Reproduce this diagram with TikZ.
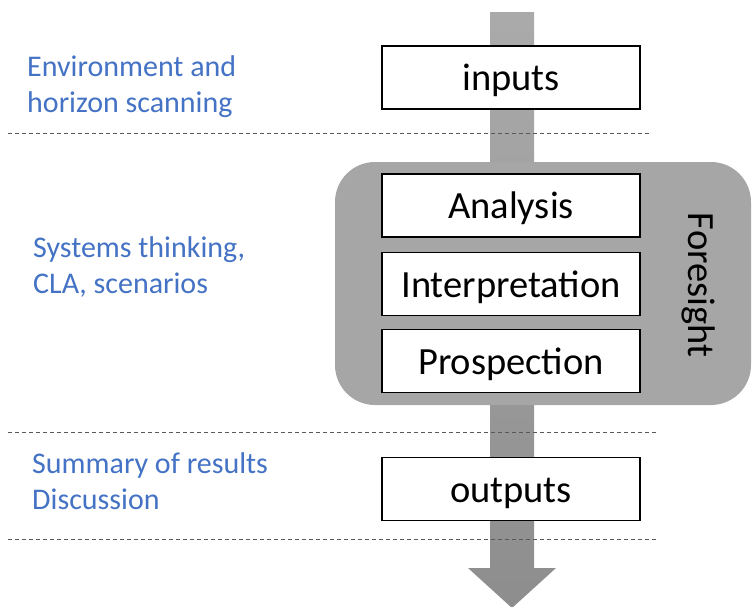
\documentclass[tikz,border=0pt]{standalone}
\usepackage{fontspec}
\setmainfont{Carlito}
\definecolor{labelblue}{HTML}{4472C4}
\definecolor{panelgray}{HTML}{A6A6A6}
\definecolor{dashgray}{HTML}{595959}
\tikzset{
  stagebox/.style={draw=black, line width=1.3pt, fill=white, minimum width=258pt,
    minimum height=63pt, inner sep=0pt, text height=26pt, text depth=0pt,
    font=\fontsize{38.5}{44}\selectfont},
  % anchored at the baseline of the last line
  sidelabel/.style={anchor=base west, align=left, text=labelblue, inner sep=0pt,
    font=\fontsize{30}{36}\selectfont},
  divider/.style={draw=dashgray, line width=0.8pt, dash pattern=on 4pt off 3pt},
}
\begin{document}
\begin{tikzpicture}[x=1pt, y=-1pt]
  \useasboundingbox (0,0) rectangle (752,606);
  % flow arrow running through all stages
  \shade[top color=panelgray!95!white, bottom color=panelgray!85!black]
    (490,12) -- (534,12) -- (534,568) -- (556,568) -- (512,608)
    -- (468,568) -- (490,568) -- cycle;
  % foresight panel
  \node[fill=panelgray, rounded corners=40pt, minimum width=416pt, minimum height=243pt,
    inner sep=0pt] (panel) at (543,283.5) {};
  \node[rotate=-90, anchor=base, inner sep=0pt, font=\fontsize{38.5}{44}\selectfont]
    (foresight) at (688,285) {Foresight};
  % stages
  \node[stagebox] (inputs) at (511,77.5) {inputs};
  \node[stagebox] (analysis) at (511,205.5) {Analysis};
  \node[stagebox] (interp) at (511,284) {Interpretation};
  \node[stagebox] (prosp) at (511,361) {Prospection};
  \node[stagebox] (outputs) at (511,489) {outputs};
  % dividers
  \coordinate (d1a) at (8,133);  \coordinate (d1b) at (650,133);
  \coordinate (d2a) at (8,432);  \coordinate (d2b) at (658,432);
  \coordinate (d3a) at (8,539);  \coordinate (d3b) at (658,539);
  \draw[divider] (d1a) -- (d1b);
  \draw[divider] (d2a) -- (d2b);
  \draw[divider] (d3a) -- (d3b);
  % method labels
  \node[sidelabel] (scan) at (27,112) {Environment and\\horizon scanning};
  \node[sidelabel] (systems) at (33,293) {Systems thinking,\\CLA, scenarios};
  \node[sidelabel] (summary) at (32,509) {Summary of results\\Discussion};
\end{tikzpicture}
\end{document}
